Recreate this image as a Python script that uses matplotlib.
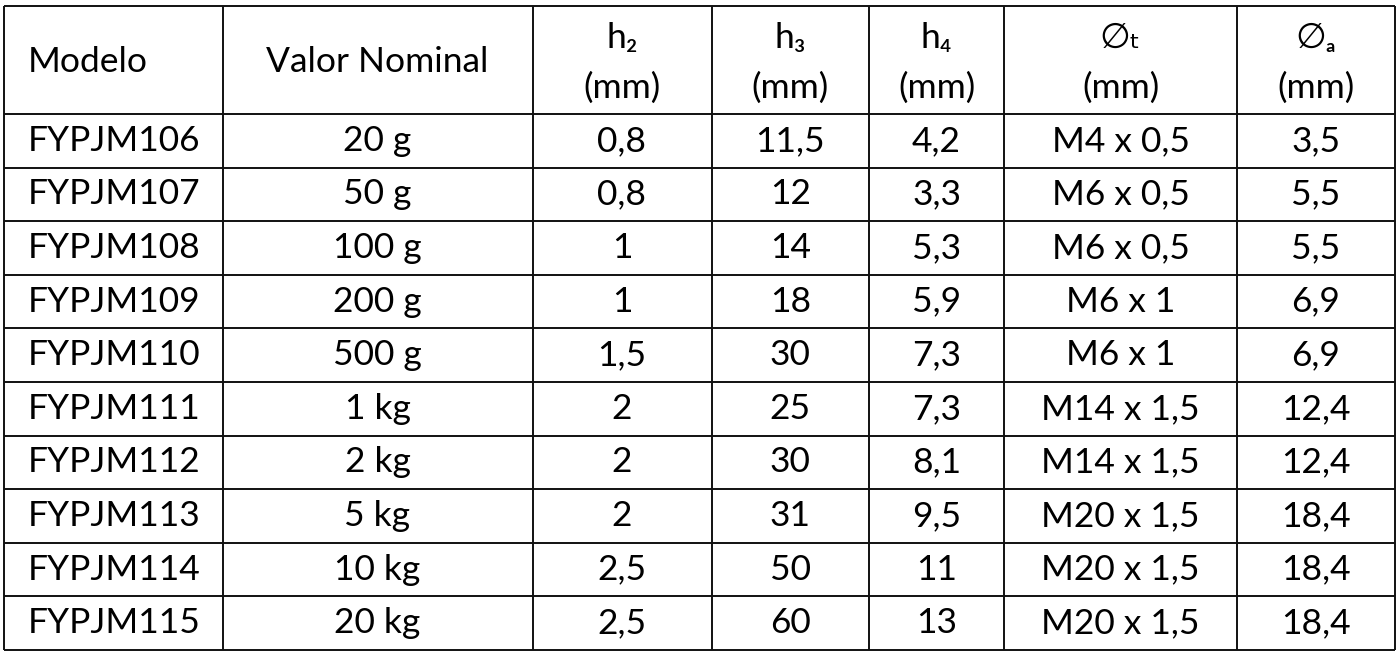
import matplotlib
matplotlib.use("Agg")
import matplotlib.pyplot as plt

# table content
headers_top = ["Modelo", "Valor Nominal", "h₂", "h₃", "h₄", "∅ₜ", "∅ₐ"]
units = ["", "", "(mm)", "(mm)", "(mm)", "(mm)", "(mm)"]
modelos = ["FYPJM106", "FYPJM107", "FYPJM108", "FYPJM109", "FYPJM110",
           "FYPJM111", "FYPJM112", "FYPJM113", "FYPJM114", "FYPJM115"]
valores = ["20 g", "50 g", "100 g", "200 g", "500 g",
           "1 kg", "2 kg", "5 kg", "10 kg", "20 kg"]
h2 = ["0,8", "0,8", "1", "1", "1,5", "2", "2", "2", "2,5", "2,5"]
h3 = ["11,5", "12", "14", "18", "30", "25", "30", "31", "50", "60"]
h4 = ["4,2", "3,3", "5,3", "5,9", "7,3", "7,3", "8,1", "9,5", "11", "13"]
rosca = ["M4 x 0,5", "M6 x 0,5", "M6 x 0,5", "M6 x 1", "M6 x 1",
         "M14 x 1,5", "M14 x 1,5", "M20 x 1,5", "M20 x 1,5", "M20 x 1,5"]
diam_a = ["3,5", "5,5", "5,5", "6,9", "6,9", "12,4", "12,4", "18,4", "18,4", "18,4"]

columns = [modelos, valores, h2, h3, h4, rosca, diam_a]

# layout in pixel units
col_edges = [4, 222.5, 532.5, 711.5, 869, 1004, 1237, 1395]
top, header_bottom, bottom = 6, 114, 650
row_h = (bottom - header_bottom) / len(modelos)

fonts = ["Lato", "DejaVu Sans"]
fs = 25.5

fig = plt.figure(figsize=(13.99, 6.58), dpi=100)
ax = fig.add_axes([0, 0, 1, 1])
ax.set_xlim(0, 1399)
ax.set_ylim(658, 0)
ax.axis("off")

# grid lines
row_lines = [top, header_bottom] + [header_bottom + row_h * (i + 1) for i in range(len(modelos))]
ax.hlines(row_lines, col_edges[0], col_edges[-1], color="#111111", lw=1.4)
ax.vlines(col_edges, top, bottom, color="#111111", lw=1.4)

# header
for j, (head, unit) in enumerate(zip(headers_top, units)):
    xc = (col_edges[j] + col_edges[j + 1]) / 2
    if j == 0:
        ax.text(28, 62, head, ha="left", va="center", fontsize=fs, family=fonts)
    elif unit == "":
        ax.text(xc, 62, head, ha="center", va="center", fontsize=fs, family=fonts)
    else:
        ax.text(xc, 38, head, ha="center", va="center", fontsize=fs, family=fonts)
        ax.text(xc, 88, unit, ha="center", va="center", fontsize=fs, family=fonts)

# body
for j, col in enumerate(columns):
    xc = (col_edges[j] + col_edges[j + 1]) / 2
    for i, val in enumerate(col):
        yc = header_bottom + row_h * (i + 0.5)
        if j == 0:
            ax.text(28, yc, val, ha="left", va="center", fontsize=fs, family=fonts)
        else:
            ax.text(xc, yc, val, ha="center", va="center", fontsize=fs, family=fonts)

fig.savefig("out.png", dpi=100, facecolor="white")
